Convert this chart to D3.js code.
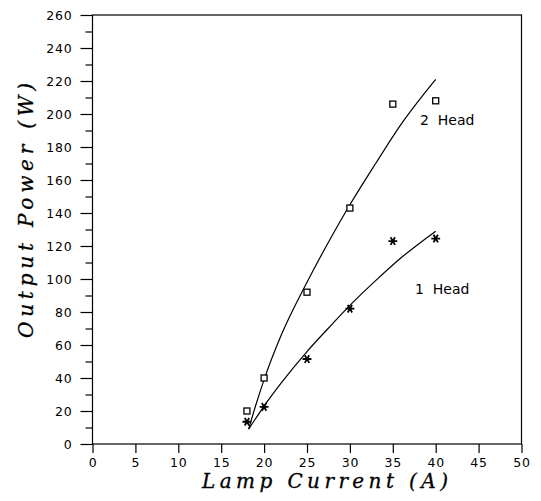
<!DOCTYPE html>
<html>
<head>
<meta charset="utf-8">
<script src="https://cdn.jsdelivr.net/npm/d3@7"></script>
<style>
  html, body { margin: 0; padding: 0; background: #fff; }
  svg { display: block; }
  .tick text { font-family: "DejaVu Sans", sans-serif; font-size: 12.5px; letter-spacing: 0.8px; fill: #000; }
</style>
</head>
<body>
<svg id="chart" width="541" height="501"></svg>
<script>
// ---- data ----
const current = [18, 20, 25, 30, 35, 40];                 // Lamp current (A)
const head2 = [20, 40, 92, 143, 206, 208];                // 2 Head measured output (W)
const head1 = [13.5, 22.5, 51.5, 82, 123, 124.5];         // 1 Head measured output (W)

// fitted curves
const fit2X = [18.2, 19, 20, 22, 25, 28, 30, 33, 36, 40];
const fit2Y = [9, 23, 39, 66, 98, 127, 145, 170, 194, 221];
const fit1X = [18.2, 20, 22, 25, 28, 30, 33, 36, 40];
const fit1Y = [9, 23, 37, 56, 73, 84, 99, 113, 129];

const xTicks = [0, 5, 10, 15, 20, 25, 30, 35, 40, 45, 50];
const yTicks = [0, 20, 40, 60, 80, 100, 120, 140, 160, 180, 200, 220, 240, 260];
const yMinor = [10, 30, 50, 70, 90, 110, 130, 150, 170, 190, 210, 230, 250];

const seriesLabels = ["2  Head", "1  Head"];
const xTitle = "Lamp Current (A)";
const yTitle = "Output Power (W)";

// ---- drawing ----
const svg = d3.select("#chart");
const x = d3.scaleLinear().domain([0, 50]).range([92.5, 521.5]);
const y = d3.scaleLinear().domain([0, 260]).range([444, 15]);

// frame
svg.append("rect")
  .attr("x", x(0)).attr("y", y(260))
  .attr("width", x(50) - x(0)).attr("height", y(0) - y(260))
  .attr("fill", "none").attr("stroke", "#000").attr("stroke-width", 1.2);

// y axis major
const gy = svg.append("g").attr("transform", `translate(${x(0)},0)`)
  .call(d3.axisLeft(y).tickValues(yTicks).tickSize(12).tickPadding(8));
gy.select(".domain").remove();
gy.selectAll(".tick line").attr("stroke", "#000").attr("stroke-width", 1.2);

// y axis minor
const gym = svg.append("g").attr("transform", `translate(${x(0)},0)`)
  .call(d3.axisLeft(y).tickValues(yMinor).tickSize(7).tickFormat(""));
gym.select(".domain").remove();
gym.selectAll(".tick line").attr("stroke", "#000").attr("stroke-width", 1.2);

// x axis
const gx = svg.append("g").attr("transform", `translate(0,${y(0)})`)
  .call(d3.axisBottom(x).tickValues(xTicks).tickSize(9).tickPadding(5));
gx.select(".domain").remove();
gx.selectAll(".tick line").attr("stroke", "#000").attr("stroke-width", 1.2);

// fitted curves
const line = d3.line().x(d => x(d[0])).y(d => y(d[1])).curve(d3.curveMonotoneX);
svg.append("path").datum(d3.zip(fit2X, fit2Y)).attr("d", line)
  .attr("fill", "none").attr("stroke", "#000").attr("stroke-width", 1.2);
svg.append("path").datum(d3.zip(fit1X, fit1Y)).attr("d", line)
  .attr("fill", "none").attr("stroke", "#000").attr("stroke-width", 1.2);

// 2 Head squares
svg.append("g").selectAll("rect").data(d3.zip(current, head2)).join("rect")
  .attr("x", d => x(d[0]) - 3).attr("y", d => y(d[1]) - 3)
  .attr("width", 6).attr("height", 6)
  .attr("fill", "#fff").attr("stroke", "#000").attr("stroke-width", 1.3);

// 1 Head stars
const star = d3.symbol().type(d3.symbolAsterisk).size(55);
svg.append("g").selectAll("path").data(d3.zip(current, head1)).join("path")
  .attr("d", star)
  .attr("transform", d => `translate(${x(d[0])},${y(d[1])}) rotate(90)`)
  .attr("fill", "none").attr("stroke", "#000").attr("stroke-width", 1.8);

// series labels
svg.append("text").attr("x", 420).attr("y", 125)
  .attr("font-family", "DejaVu Sans, sans-serif").attr("font-size", 14)
  .style("white-space", "pre").text(seriesLabels[0]);
svg.append("text").attr("x", 415).attr("y", 294)
  .attr("font-family", "DejaVu Sans, sans-serif").attr("font-size", 14)
  .style("white-space", "pre").text(seriesLabels[1]);

// axis titles
svg.append("text").attr("x", 202).attr("y", 488)
  .attr("font-family", "DejaVu Serif, serif").attr("font-style", "italic")
  .attr("font-size", 20).attr("stroke", "#000").attr("stroke-width", 0.3)
  .attr("textLength", 246).attr("lengthAdjust", "spacing")
  .text(xTitle);
svg.append("text")
  .attr("transform", "translate(33,338) rotate(-90)")
  .attr("font-family", "DejaVu Serif, serif").attr("font-style", "italic")
  .attr("font-size", 20).attr("stroke", "#000").attr("stroke-width", 0.3)
  .attr("textLength", 255).attr("lengthAdjust", "spacing")
  .text(yTitle);
</script>
</body>
</html>
